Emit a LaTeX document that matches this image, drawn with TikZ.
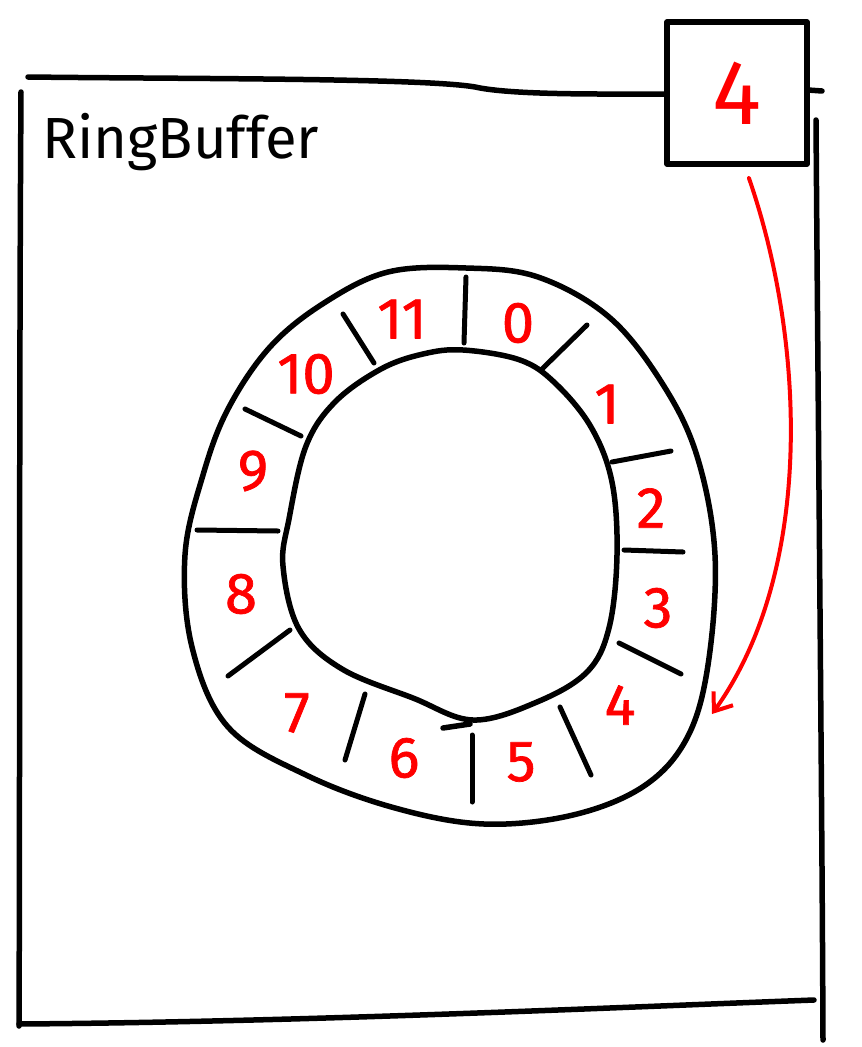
\documentclass[tikz,border=0pt]{standalone}
\usepackage{fontspec}
\setmainfont{Fira Sans}
\newfontfamily\numfont[FakeBold=1.2]{Fira Sans}
\usetikzlibrary{arrows.meta}
\begin{document}
\begin{tikzpicture}[x=1pt,y=-1pt,line cap=round,line join=round,
  ink/.style={line width=5.5pt,black},
  tickline/.style={line width=5pt,black},
  num/.style={text=red,font=\numfont\fontsize{58}{58}\selectfont,inner sep=0pt},
  title/.style={font=\fontsize{58}{58}\selectfont,inner sep=0pt,anchor=base west},
  pointer/.style={line width=4pt,red,-{Straight Barb[length=16pt,width=24pt,line width=4pt]}}]
\useasboundingbox[fill=white] (0,0) rectangle (862,1047);

% frame
\draw[ink] (28,77) .. controls (200,79) and (440,78) .. (480,88) .. controls (520,95) and (600,94) .. (667,94);
\draw[ink] (808,90) -- (822,91);
\draw[ink] (21,92) .. controls (19,400) and (20,800) .. (19,1026);
\draw[ink] (19,1024) .. controls (300,1022) and (600,1008) .. (814,1000);
\draw[ink] (816,120) .. controls (818,400) and (822,800) .. (823,1040);

% counter box
\node[draw,line width=5.5pt,minimum width=140pt,minimum height=142pt,text=red,font=\fontsize{92}{92}\selectfont,inner sep=0pt] (box) at (737,93) {4};

\node[title] (name) at (42,158) {RingBuffer};

% ring
\draw[ink] plot[smooth cycle,tension=0.6] coordinates {
 (466,268) (538,277) (609,317) (662,383) (697,456) (715,555) (708,665)
 (687,738) (644,786) (573,815) (484,824) (395,808) (306,775) (228,727)
 (192,647) (185,555) (203,475) (228,409) (270,347) (324,303) (388,272)};
\draw[ink] plot[smooth cycle,tension=0.6] coordinates {
 (463,350) (520,360) (555,383) (591,427) (612,482) (617,555) (609,628)
 (587,672) (537,702) (473,720) (413,698) (342,669) (299,629) (283,566)
 (289,519) (306,446) (335,402) (381,369) (423,354)};
\draw[ink] (443,728) -- (470,724);

% dividers
\draw[tickline] (466,277) -- (464,343);
\draw[tickline] (587,325) -- (541,370);
\draw[tickline] (612,462) -- (671,451);
\draw[tickline] (624,550) -- (683,552);
\draw[tickline] (619,643) -- (681,674);
\draw[tickline] (560,707) -- (591,775);
\draw[tickline] (472,735) -- (472,802);
\draw[tickline] (365,694) -- (345,760);
\draw[tickline] (290,630) -- (228,676);
\draw[tickline] (278,531) -- (197,530);
\draw[tickline] (301,436) -- (245,409);
\draw[tickline] (374,363) -- (343,314);

% slot numbers
\node[num] (n0) at (518,323) {0};
\node[num] (n1) at (607,404) {1};
\node[num] (n2) at (651,508) {2};
\node[num] (n3) at (658,608) {3};
\node[num] (n4) at (620,705) {4};
\node[num] (n5) at (521,762) {5};
\node[num] (n6) at (404,758) {6};
\node[num] (n7) at (297,713) {7};
\node[num] (n8) at (241,594) {8};
\node[num] (n9) at (253,471) {9};
\node[num] (n10) at (306,374) {10};
\node[num] (n11) at (402,319) {11};

% pointer arrow
\coordinate (tip) at (712,714);
\draw[pointer,shorten <=12pt] ([xshift=8pt]box.south) .. controls (805,340) and (815,570) .. (tip);
\end{tikzpicture}
\end{document}
